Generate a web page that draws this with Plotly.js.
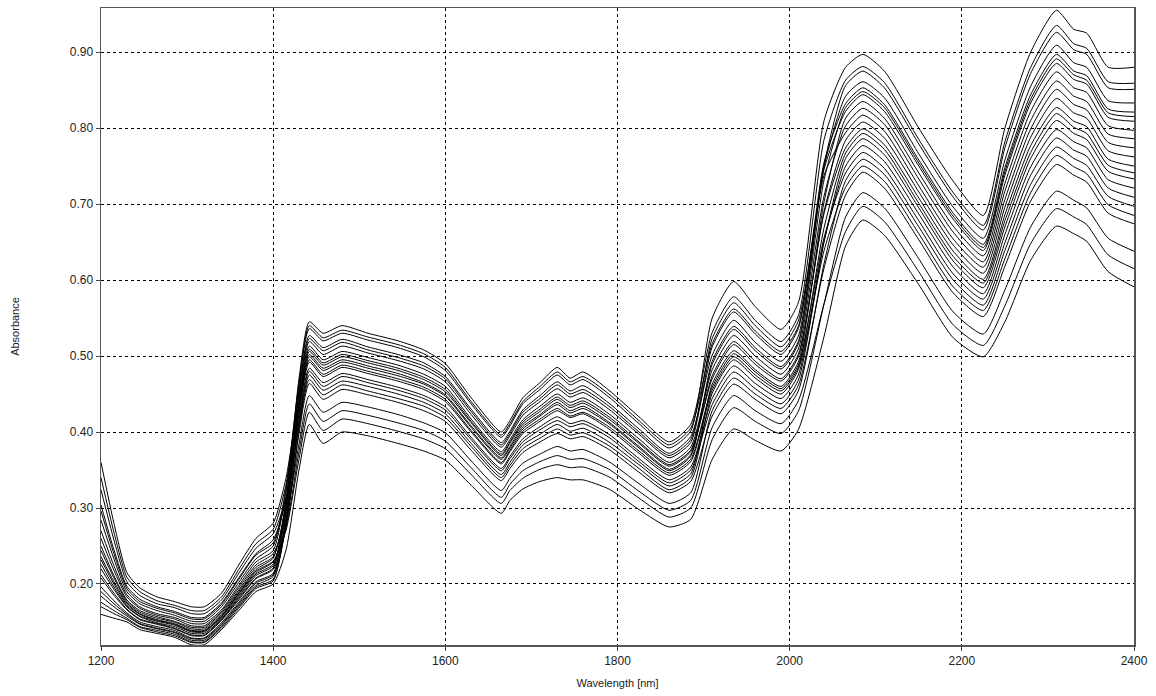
<!DOCTYPE html>
<html>
<head>
<meta charset="utf-8">
<script src="https://cdn.plot.ly/plotly-3.0.1.min.js"></script>
<style>html,body{margin:0;padding:0;background:#fff;}#chart{width:1156px;height:696px;}</style>
</head>
<body>
<div id="chart"></div>
<script>
// Wavelengths [nm]
const wavelength = [1200,1215,1230,1245,1265,1285,1305,1320,1340,1360,1380,1400,1415,
  1430,1442,1458,1480,1510,1545,1575,1600,1630,1665,1675,1690,1710,1730,1745,1760,1790,1825,1860,1885,
  1910,1935,1960,1990,2010,2040,
  2065,2085,2110,2150,2190,2225,2250,2280,2310,2330,2345,2370,2400];

// Absorbance spectra
const spectrum01 = [.220,.193,.170,.157,.149,.144,.135,.135,.154,.183,.211,.224,.313,
  .470,.545,.530,.540,.530,.520,.508,.490,.445,.400,.415,.445,.465,.485,.471,.479,.455,.420,.387,.410,
  .531,.578,.547,.519,.553,.785,
  .863,.881,.860,.785,.715,.672,.782,.880,.935,.911,.905,.861,.859];
const spectrum02 = [.270,.224,.186,.170,.161,.156,.148,.148,.166,.198,.229,.244,.323,
  .462,.536,.520,.530,.521,.511,.499,.481,.437,.393,.408,.437,.456,.475,.462,.469,.446,.411,.379,.401,
  .550,.598,.565,.535,.570,.810,
  .880,.897,.875,.800,.730,.685,.800,.900,.955,.930,.925,.880,.880];
const spectrum03 = [.196,.178,.162,.150,.144,.139,.129,.129,.149,.176,.203,.214,.300,
  .454,.527,.511,.522,.512,.502,.491,.473,.430,.386,.401,.429,.448,.466,.454,.461,.438,.404,.372,.394,
  .501,.547,.518,.493,.526,.749,
  .842,.861,.840,.766,.696,.655,.758,.855,.909,.886,.880,.836,.833];
const spectrum04 = [.360,.280,.215,.195,.183,.177,.170,.170,.188,.225,.260,.280,.340,
  .447,.519,.502,.513,.504,.494,.483,.466,.423,.380,.395,.422,.440,.457,.446,.452,.430,.397,.366,.386,
  .512,.558,.529,.502,.536,.746,
  .822,.844,.822,.750,.680,.639,.738,.833,.885,.864,.858,.814,.809];
const spectrum05 = [.244,.208,.177,.163,.155,.150,.141,.141,.160,.190,.219,.234,.307,
  .441,.513,.495,.506,.498,.488,.476,.460,.417,.374,.390,.416,.434,.450,.439,.445,.424,.391,.360,.380,
  .482,.527,.500,.476,.509,.711,
  .803,.826,.805,.733,.663,.624,.717,.810,.862,.842,.835,.792,.786];
const spectrum06 = [.184,.170,.158,.147,.141,.136,.126,.126,.146,.172,.198,.210,.289,
  .435,.506,.488,.499,.491,.481,.469,.453,.412,.369,.385,.410,.427,.443,.432,.438,.417,.385,.355,.374,
  .470,.515,.489,.467,.499,.691,
  .784,.808,.787,.716,.646,.609,.696,.788,.839,.820,.813,.770,.762];
const spectrum07 = [.296,.240,.194,.177,.168,.162,.154,.154,.173,.206,.238,.254,.315,
  .429,.499,.481,.492,.484,.474,.463,.447,.406,.364,.379,.404,.421,.436,.425,.431,.411,.379,.349,.368,
  .493,.539,.511,.486,.519,.752,
  .856,.875,.853,.779,.709,.666,.774,.872,.926,.903,.897,.853,.851];
const spectrum08 = [.226,.196,.171,.158,.151,.146,.137,.137,.156,.185,.213,.226,.294,
  .423,.492,.473,.485,.477,.467,.456,.440,.400,.358,.374,.398,.414,.428,.419,.424,.404,.372,.343,.361,
  .455,.499,.475,.454,.485,.669,
  .767,.793,.772,.701,.631,.596,.678,.768,.819,.801,.793,.751,.741];
const spectrum09 = [.176,.165,.155,.144,.139,.134,.124,.124,.144,.170,.196,.206,.278,
  .416,.484,.465,.477,.469,.459,.448,.433,.393,.352,.368,.391,.407,.420,.411,.415,.397,.365,.337,.354,
  .444,.487,.464,.444,.475,.651,
  .750,.777,.756,.687,.617,.582,.660,.749,.798,.782,.774,.732,.721];
const spectrum10 = [.324,.258,.203,.185,.174,.169,.161,.161,.179,.214,.247,.266,.313,
  .408,.475,.455,.467,.460,.450,.439,.424,.385,.344,.360,.383,.397,.410,.401,.405,.387,.357,.329,.345,
  .463,.507,.482,.460,.492,.703,
  .813,.835,.813,.741,.671,.632,.727,.822,.874,.853,.847,.803,.797];
const spectrum11 = [.208,.185,.166,.153,.147,.141,.132,.132,.152,.179,.207,.219,.279,
  .398,.464,.443,.456,.449,.439,.428,.414,.376,.336,.352,.373,.387,.398,.391,.394,.377,.347,.320,.335,
  .421,.463,.443,.424,.454,.622,
  .731,.759,.739,.670,.600,.567,.639,.726,.775,.760,.751,.710,.697];
const spectrum12 = [.260,.218,.183,.168,.159,.154,.145,.145,.164,.195,.225,.240,.286,
  .384,.448,.426,.439,.433,.423,.412,.399,.362,.323,.339,.359,.371,.381,.375,.377,.361,.332,.306,.320,
  .428,.471,.450,.431,.461,.616,
  .712,.742,.721,.653,.583,.552,.618,.704,.752,.738,.729,.688,.674];
const spectrum13 = [.236,.203,.175,.161,.153,.148,.139,.139,.158,.188,.217,.230,.271,
  .364,.426,.402,.417,.411,.401,.391,.378,.344,.306,.323,.339,.351,.357,.353,.354,.341,.313,.288,.300,
  .390,.432,.414,.398,.427,.569,
  .683,.715,.695,.628,.558,.529,.587,.670,.717,.705,.695,.655,.638];
const spectrum14 = [.160,.155,.150,.140,.135,.130,.120,.120,.140,.165,.190,.200,.245,
  .350,.410,.385,.400,.395,.385,.375,.363,.330,.293,.310,.325,.335,.340,.337,.337,.325,.298,.275,.285,
  .364,.404,.389,.375,.403,.526,
  .645,.679,.659,.594,.524,.499,.545,.626,.671,.661,.651,.611,.591];
const spectrum15 = [.284,.233,.190,.174,.165,.159,.151,.151,.170,.202,.233,.250,.328,
  .465,.540,.524,.534,.525,.515,.503,.485,.440,.396,.411,.440,.460,.479,.466,.473,.450,.415,.383,.405,
  .516,.562,.533,.506,.539,.755,
  .832,.853,.831,.758,.688,.647,.748,.844,.897,.875,.869,.825,.821];
const spectrum16 = [.212,.188,.167,.154,.148,.142,.133,.133,.153,.181,.208,.221,.303,
  .451,.523,.507,.518,.508,.498,.487,.470,.427,.383,.398,.426,.444,.462,.450,.456,.434,.400,.369,.390,
  .523,.570,.540,.512,.546,.738,
  .794,.817,.796,.724,.654,.617,.706,.799,.851,.831,.824,.781,.774];
const spectrum17 = [.340,.268,.209,.190,.178,.172,.165,.165,.183,.219,.253,.272,.331,
  .438,.509,.491,.502,.494,.484,.472,.456,.414,.371,.387,.413,.430,.446,.435,.441,.420,.387,.357,.376,
  .474,.519,.493,.470,.502,.688,
  .774,.799,.778,.708,.638,.601,.686,.777,.827,.809,.802,.759,.750];
const spectrum18 = [.170,.161,.153,.143,.137,.132,.123,.123,.142,.168,.194,.204,.283,
  .432,.502,.484,.495,.487,.477,.465,.449,.408,.366,.381,.407,.423,.439,.428,.434,.413,.381,.351,.370,
  .489,.535,.507,.483,.516,.732,
  .827,.848,.827,.754,.684,.643,.743,.838,.891,.870,.863,.820,.815];
const spectrum19 = [.250,.211,.179,.165,.157,.151,.143,.143,.162,.192,.222,.236,.302,
  .426,.495,.476,.488,.480,.470,.459,.443,.402,.360,.376,.401,.417,.431,.421,.426,.407,.375,.346,.364,
  .459,.503,.479,.457,.488,.656,
  .741,.768,.747,.678,.608,.575,.649,.738,.787,.771,.763,.721,.709];
const spectrum20 = [.304,.245,.197,.180,.170,.164,.156,.156,.175,.208,.240,.258,.310,
  .412,.480,.460,.473,.465,.455,.444,.429,.390,.349,.365,.387,.403,.415,.407,.411,.393,.361,.333,.350,
  .436,.479,.457,.437,.468,.651,
  .760,.786,.765,.695,.625,.590,.670,.760,.810,.793,.785,.743,.733];
const spectrum21 = [.190,.174,.160,.148,.142,.137,.128,.128,.147,.174,.201,.212,.276,
  .403,.469,.449,.462,.454,.444,.434,.419,.381,.340,.356,.378,.392,.404,.396,.399,.382,.352,.324,.340,
  .451,.495,.471,.450,.482,.639,
  .722,.750,.730,.661,.591,.560,.628,.715,.764,.749,.740,.699,.685];
const spectrum22 = [.232,.200,.173,.160,.152,.147,.138,.138,.157,.187,.215,.229,.274,
  .374,.437,.414,.428,.422,.412,.402,.388,.353,.314,.331,.349,.361,.369,.364,.365,.351,.322,.297,.310,
  .406,.448,.428,.411,.441,.569,
  .664,.697,.677,.611,.541,.514,.566,.648,.694,.683,.673,.633,.615];

const spectra = [spectrum01,spectrum02,spectrum03,spectrum04,spectrum05,spectrum06,spectrum07,
  spectrum08,spectrum09,spectrum10,spectrum11,spectrum12,spectrum13,spectrum14,spectrum15,
  spectrum16,spectrum17,spectrum18,spectrum19,spectrum20,spectrum21,spectrum22];

const xTicks = [1200,1400,1600,1800,2000,2200,2400];
const yTicks = [0.20,0.30,0.40,0.50,0.60,0.70,0.80,0.90];

const traces = spectra.map(s => ({
  x: wavelength, y: s, type: 'scatter', mode: 'lines',
  line: {color: '#000', width: 1, shape: 'spline', smoothing: 0.6},
  hoverinfo: 'skip', showlegend: false
}));

const font = {family: 'Liberation Sans, Arial, sans-serif', size: 12, color: '#222'};
const titleFont = {family: 'Liberation Sans, Arial, sans-serif', size: 11, color: '#222'};

const layout = {
  width: 1156, height: 696,
  margin: {l: 101, r: 22, t: 8, b: 51},
  paper_bgcolor: '#fff', plot_bgcolor: '#fff',
  font: font,
  showlegend: false,
  xaxis: {
    range: [1200, 2400], tickvals: xTicks, ticktext: xTicks.map(String),
    showgrid: true, gridcolor: '#000', gridwidth: 1, griddash: '3px,3px',
    showline: true, linecolor: '#555', linewidth: 1.5, mirror: true,
    ticks: 'outside', ticklen: 4, tickcolor: '#444',
    zeroline: false, tickfont: font,
    title: {text: 'Wavelength [nm]', font: titleFont, standoff: 12}
  },
  yaxis: {
    range: [0.1197, 0.958], tickvals: yTicks, ticktext: yTicks.map(v => v.toFixed(2)),
    showgrid: true, gridcolor: '#000', gridwidth: 1, griddash: '3px,3px',
    showline: true, linecolor: '#555', linewidth: 1.5, mirror: true,
    ticks: 'outside', ticklen: 4, tickcolor: '#444',
    zeroline: false, tickfont: font,
    title: {text: 'Absorbance', font: titleFont, standoff: 48}
  }
};

Plotly.newPlot('chart', traces, layout, {displayModeBar: false, staticPlot: true});
</script>
</body>
</html>
